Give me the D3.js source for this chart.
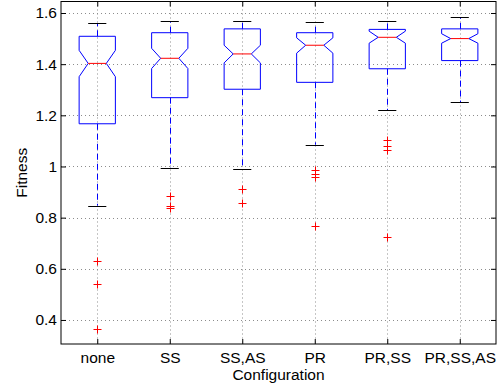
<!DOCTYPE html>
<html>
<head>
<meta charset="utf-8">
<script src="https://cdn.jsdelivr.net/npm/d3@7"></script>
<style>
  html, body { margin: 0; padding: 0; background: #fff; }
  svg { display: block; font-family: "Liberation Sans", Arial, Helvetica, sans-serif; }
</style>
</head>
<body>
<div id="chart"></div>
<script>
const configs = ['none', 'SS', 'SS,AS', 'PR', 'PR,SS', 'PR,SS,AS'];
const q1 = [1.167, 1.269, 1.302, 1.329, 1.382, 1.414];
const medians = [1.403, 1.423, 1.440, 1.474, 1.505, 1.500];
const q3 = [1.509, 1.523, 1.538, 1.523, 1.536, 1.538];
const notchLo = [1.351, 1.383, 1.405, 1.443, 1.482, 1.482];
const notchHi = [1.454, 1.462, 1.474, 1.503, 1.529, 1.519];
const whiskerLo = [0.847, 0.994, 0.990, 1.085, 1.219, 1.252];
const whiskerHi = [1.559, 1.568, 1.568, 1.563, 1.567, 1.584];
const outliers = [
  [0.632, 0.539, 0.366],
  [0.884, 0.845, 0.838],
  [0.911, 0.859],
  [0.985, 0.972, 0.958, 0.769],
  [1.105, 1.079, 1.063, 0.723],
  []
];
const yTicks = [0.4, 0.6, 0.8, 1.0, 1.2, 1.4, 1.6];

const width = 500, height = 390;
const plotLeft = 61, plotRight = 496, plotTop = 1.5, plotBottom = 344;
const fontSize = 15.5;

const svg = d3.select('#chart').append('svg')
  .attr('width', width)
  .attr('height', height);

const x = d3.scaleLinear().domain([0.5, configs.length + 0.5]).range([plotLeft, plotRight]);
const y = d3.scaleLinear().domain([0.306, 1.645]).range([plotBottom, plotTop]);

const boxes = configs.map((name, i) => ({
  name, pos: i + 1,
  q1: q1[i], med: medians[i], q3: q3[i],
  nlo: notchLo[i], nhi: notchHi[i],
  wlo: whiskerLo[i], whi: whiskerHi[i],
  out: outliers[i]
}));

// grid
const grid = svg.append('g')
  .attr('stroke', '#8c8c8c')
  .attr('stroke-width', 1)
  .attr('stroke-dasharray', '1,3');

grid.selectAll('line.h')
  .data(yTicks)
  .join('line')
  .attr('class', 'h')
  .attr('x1', plotLeft).attr('x2', plotRight)
  .attr('y1', d => Math.round(y(d)) + 0.5)
  .attr('y2', d => Math.round(y(d)) + 0.5);

grid.selectAll('line.v')
  .data(boxes)
  .join('line')
  .attr('class', 'v')
  .attr('x1', d => Math.round(x(d.pos)) + 0.5)
  .attr('x2', d => Math.round(x(d.pos)) + 0.5)
  .attr('y1', plotTop).attr('y2', plotBottom);

const boxHalf = 0.25, notchHalf = 0.125, capHalf = 0.125;

const g = svg.append('g').selectAll('g')
  .data(boxes)
  .join('g');

// whiskers
g.append('line')
  .attr('x1', d => Math.round(x(d.pos)) + 0.5)
  .attr('x2', d => Math.round(x(d.pos)) + 0.5)
  .attr('y1', d => y(d.q3)).attr('y2', d => y(d.whi))
  .attr('stroke', '#0000ff').attr('stroke-dasharray', '6,4');
g.append('line')
  .attr('x1', d => Math.round(x(d.pos)) + 0.5)
  .attr('x2', d => Math.round(x(d.pos)) + 0.5)
  .attr('y1', d => y(d.q1)).attr('y2', d => y(d.wlo))
  .attr('stroke', '#0000ff').attr('stroke-dasharray', '6,4');

// caps
['whi', 'wlo'].forEach(k => {
  g.append('line')
    .attr('x1', d => x(d.pos - capHalf))
    .attr('x2', d => x(d.pos + capHalf))
    .attr('y1', d => Math.round(y(d[k])) + 0.5)
    .attr('y2', d => Math.round(y(d[k])) + 0.5)
    .attr('stroke', '#000');
});

// notched box
g.append('path')
  .attr('fill', 'none')
  .attr('stroke', '#0000ff')
  .attr('d', d => {
    const pts = [
      [d.pos - boxHalf, d.q1],
      [d.pos - boxHalf, d.nlo],
      [d.pos - notchHalf, d.med],
      [d.pos - boxHalf, d.nhi],
      [d.pos - boxHalf, d.q3],
      [d.pos + boxHalf, d.q3],
      [d.pos + boxHalf, d.nhi],
      [d.pos + notchHalf, d.med],
      [d.pos + boxHalf, d.nlo],
      [d.pos + boxHalf, d.q1]
    ];
    return d3.line().x(p => x(p[0])).y(p => y(p[1]))(pts) + 'Z';
  });

// median
g.append('line')
  .attr('x1', d => x(d.pos - notchHalf))
  .attr('x2', d => x(d.pos + notchHalf))
  .attr('y1', d => y(d.med)).attr('y2', d => y(d.med))
  .attr('stroke', '#ff0000');

// outliers
g.each(function (d) {
  d3.select(this).selectAll('path.out')
    .data(d.out)
    .join('path')
    .attr('class', 'out')
    .attr('stroke', '#ff0000')
    .attr('fill', 'none')
    .attr('d', v => {
      const cx = Math.round(x(d.pos)) + 0.5, cy = Math.round(y(v)) + 0.5;
      return `M${cx - 4},${cy}H${cx + 4}M${cx},${cy - 4}V${cy + 4}`;
    });
});

// axes (inner ticks, box on)
const axL = svg.append('g').attr('transform', `translate(${plotLeft},0)`)
  .call(d3.axisLeft(y).tickValues(yTicks).tickSize(-5).tickPadding(4)
    .tickFormat(d => d === 1 ? '1' : d3.format('.1f')(d)));
const axR = svg.append('g').attr('transform', `translate(${plotRight},0)`)
  .call(d3.axisRight(y).tickValues(yTicks).tickSize(-5).tickFormat(''));
const axB = svg.append('g').attr('transform', `translate(0,${plotBottom})`)
  .call(d3.axisBottom(x).tickValues(boxes.map(b => b.pos)).tickSize(-5).tickPadding(8)
    .tickFormat((d, i) => configs[i]));
const axT = svg.append('g').attr('transform', `translate(0,${plotTop})`)
  .call(d3.axisTop(x).tickValues(boxes.map(b => b.pos)).tickSize(-5).tickFormat(''));

[axL, axR, axB, axT].forEach(a => {
  a.select('.domain').remove();
  a.selectAll('.tick line').attr('stroke', '#000');
  a.selectAll('text').attr('font-size', fontSize).attr('fill', '#000')
    .attr('font-family', '"Liberation Sans", Arial, sans-serif');
});

svg.append('rect')
  .attr('x', plotLeft).attr('y', plotTop)
  .attr('width', plotRight - plotLeft).attr('height', plotBottom - plotTop)
  .attr('fill', 'none').attr('stroke', '#000').attr('stroke-width', 1);

svg.append('text')
  .attr('x', (plotLeft + plotRight) / 2).attr('y', 380)
  .attr('text-anchor', 'middle').attr('font-size', fontSize)
  .text('Configuration');

svg.append('text')
  .attr('transform', `translate(26.5,${(plotTop + plotBottom) / 2}) rotate(-90)`)
  .attr('text-anchor', 'middle').attr('font-size', fontSize)
  .text('Fitness');
</script>
</body>
</html>
